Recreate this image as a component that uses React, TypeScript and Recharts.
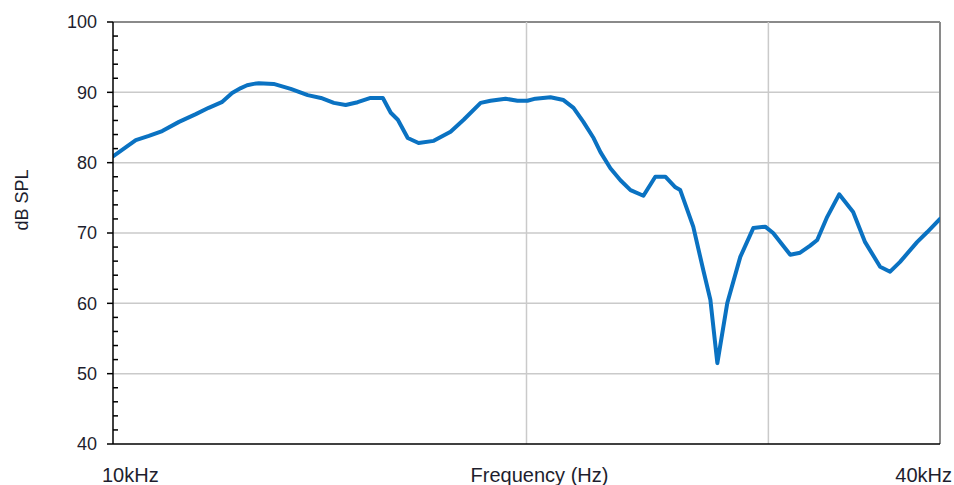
import { LineChart, Line, XAxis, YAxis, ReferenceLine, Label } from "recharts";

document.body.style.margin = "0";

// frequency (Hz) / level (dB SPL)
const freqs = [
  10000, 10220, 10390, 10620, 10860, 11170, 11490, 11740, 12000, 12210, 12390,
  12520, 12660, 12770, 13090, 13470, 13860, 14170, 14480, 14770, 15070, 15400,
  15720, 15930, 16120, 16390, 16690, 17120, 17610, 18000, 18520, 18830, 19310,
  19700, 20030, 20300, 20820, 21280, 21640, 22000, 22380, 22640, 23020, 23410,
  23810, 24330, 24820, 25240, 25670, 25880, 26450, 26900, 27220, 27540, 28000,
  28620, 29250, 29840, 30240, 31120, 31640, 32180, 32560, 33110, 33780, 34580,
  35280, 36180, 36790, 37410, 38490, 39140, 40000,
];
const levels = [
  80.9, 82.2, 83.2, 83.8, 84.5, 85.8, 86.9, 87.8, 88.6, 89.9, 90.6, 91.0, 91.2,
  91.3, 91.2, 90.5, 89.6, 89.2, 88.5, 88.2, 88.6, 89.2, 89.2, 87.1, 86.1, 83.5,
  82.8, 83.1, 84.4, 86.1, 88.5, 88.8, 89.1, 88.8, 88.8, 89.1, 89.3, 88.9, 87.8,
  85.8, 83.5, 81.5, 79.2, 77.5, 76.1, 75.3, 78.0, 78.0, 76.5, 76.1, 70.9, 64.7,
  60.5, 51.5, 60.0, 66.6, 70.7, 70.9, 70.0, 66.9, 67.2, 68.2, 69.0, 72.3, 75.5,
  73.0, 68.7, 65.2, 64.5, 65.9, 68.7, 70.1, 72.0,
];

const xTicks = [10000, 20000, 30000, 40000];
const xTickLabels: Record<number, string> = { 10000: "10kHz", 40000: "40kHz" };
const xGrid = [20000, 30000];
const yMajor = [40, 50, 60, 70, 80, 90, 100];
const yTicks = [
  40, 42, 44, 46, 48, 50, 52, 54, 56, 58, 60, 62, 64, 66, 68, 70, 72, 74, 76,
  78, 80, 82, 84, 86, 88, 90, 92, 94, 96, 98, 100,
];

const data = freqs.map((f, i) => ({ f, db: levels[i] }));

const FONT = "'Liberation Sans', Arial, sans-serif";
const TEXT = "#1e1e2e";
const TICK_SIZE = 6;
const TICK_MARGIN = 2;

function YTick(props: any) {
  const { x, y, payload } = props;
  const ax = x + TICK_SIZE + TICK_MARGIN;
  const v = payload.value;
  if (yMajor.includes(v)) {
    return (
      <g>
        <line x1={ax - 6} y1={y} x2={ax} y2={y} stroke="#000" strokeWidth={1.5} />
        <text
          x={ax - 16}
          y={y}
          dy="0.36em"
          textAnchor="end"
          fontFamily={FONT}
          fontSize={18}
          fill={TEXT}
        >
          {v}
        </text>
      </g>
    );
  }
  return <line x1={ax} y1={y} x2={ax + 5} y2={y} stroke="#000" strokeWidth={1.5} />;
}

function XTick(props: any) {
  const { x, y, payload } = props;
  const label = xTickLabels[payload.value];
  if (!label) return null;
  const start = payload.value === 10000;
  return (
    <text
      x={start ? x - 11 : x + 12}
      y={y}
      dy={30}
      textAnchor={start ? "start" : "end"}
      fontFamily={FONT}
      fontSize={20}
      fill={TEXT}
    >
      {label}
    </text>
  );
}

export default function App() {
  return (
    <LineChart
      width={954}
      height={485}
      data={data}
      margin={{ top: 22, right: 14, bottom: 0, left: 0 }}
      style={{ background: "#fff" }}
    >
      {yMajor
        .filter((v) => v !== 40)
        .map((v) => (
          <ReferenceLine
            key={`y${v}`}
            y={v}
            stroke={v === 100 ? "#8a8a8a" : "#cacaca"}
            strokeWidth={v === 100 ? 2 : 1.5}
          />
        ))}
      {xGrid.map((v) => (
        <ReferenceLine key={`x${v}`} x={v} stroke="#cacaca" strokeWidth={1.5} />
      ))}
      <ReferenceLine x={40000} stroke="#8a8a8a" strokeWidth={2} />
      <XAxis
        dataKey="f"
        type="number"
        scale="log"
        domain={[10000, 40000]}
        ticks={xTicks}
        interval={0}
        allowDataOverflow
        height={41}
        tickLine={false}
        tick={<XTick />}
        axisLine={{ stroke: "#000", strokeWidth: 1.5 }}
      >
        <Label
          content={(p: any) => {
            const vb = p.viewBox;
            return (
              <text
                x={vb.x + vb.width / 2 + 13}
                y={vb.y + 38}
                textAnchor="middle"
                fontFamily={FONT}
                fontSize={20}
                fill={TEXT}
              >
                Frequency (Hz)
              </text>
            );
          }}
        />
      </XAxis>
      <YAxis
        type="number"
        domain={[40, 100]}
        ticks={yTicks}
        interval={0}
        width={113}
        tickLine={false}
        tickSize={TICK_SIZE}
        tickMargin={TICK_MARGIN}
        tick={<YTick />}
        axisLine={{ stroke: "#000", strokeWidth: 1.5 }}
      >
        <Label
          content={(p: any) => {
            const vb = p.viewBox;
            const cx = vb.x + 28;
            const cy = 200;
            return (
              <text
                x={cx}
                y={cy}
                transform={`rotate(-90 ${cx} ${cy})`}
                textAnchor="middle"
                fontFamily={FONT}
                fontSize={18}
                fill={TEXT}
              >
                dB SPL
              </text>
            );
          }}
        />
      </YAxis>
      <Line
        type="linear"
        dataKey="db"
        stroke="#0a72c2"
        strokeWidth={4}
        strokeLinejoin="round"
        strokeLinecap="round"
        dot={false}
        activeDot={false}
        isAnimationActive={false}
      />
    </LineChart>
  );
}
